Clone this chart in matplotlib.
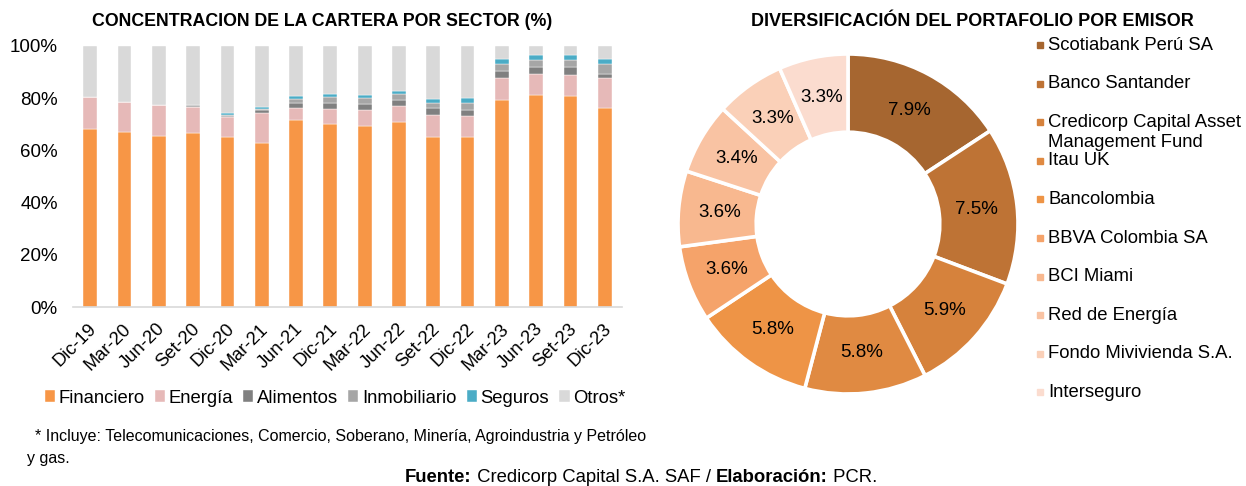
import matplotlib
matplotlib.use("Agg")
import matplotlib.pyplot as plt
import numpy as np

plt.rcParams['font.family'] = ['Liberation Sans', 'DejaVu Sans']

# ---- data: sector concentration (%) ----
periods = ["Dic-19", "Mar-20", "Jun-20", "Set-20", "Dic-20", "Mar-21", "Jun-21", "Dic-21",
           "Mar-22", "Jun-22", "Set-22", "Dic-22", "Mar-23", "Jun-23", "Set-23", "Dic-23"]
financiero = [68.1, 67.2, 65.7, 66.7, 65.3, 63.0, 71.6, 70.2, 69.4, 71.0, 65.3, 65.3, 79.5, 81.4, 80.7, 76.4]
energia = [12.5, 11.5, 11.7, 10.0, 7.4, 11.4, 4.8, 5.8, 5.9, 6.0, 8.2, 7.9, 8.4, 7.9, 8.2, 11.5]
alimentos = [0.0, 0.0, 0.0, 0.0, 0.4, 1.0, 1.8, 2.3, 2.3, 2.3, 2.6, 2.4, 2.7, 2.8, 3.1, 1.5]
inmobiliario = [0.0, 0.0, 0.0, 0.8, 0.5, 0.5, 1.5, 2.0, 2.3, 2.2, 2.0, 2.4, 2.6, 2.4, 2.6, 3.6]
seguros = [0.0, 0.0, 0.0, 0.0, 0.8, 0.8, 1.3, 1.3, 1.4, 1.4, 1.7, 1.9, 2.0, 2.2, 2.0, 2.2]
otros = [100 - (a + b + c + d + e) for a, b, c, d, e in
         zip(financiero, energia, alimentos, inmobiliario, seguros)]
sector_names = ["Financiero", "Energía", "Alimentos", "Inmobiliario", "Seguros", "Otros*"]
sector_colors = ["#F79646", "#E6B9B8", "#808080", "#A6A6A6", "#4BACC6", "#D9D9D9"]

# ---- data: issuer diversification (%) ----
emisores = ["Scotiabank Perú SA", "Banco Santander", "Credicorp Capital Asset\nManagement Fund",
            "Itau UK", "Bancolombia", "BBVA Colombia SA", "BCI Miami", "Red de Energía",
            "Fondo Mivivienda S.A.", "Interseguro"]
emisor_vals = [7.9, 7.5, 5.9, 5.8, 5.8, 3.6, 3.6, 3.4, 3.3, 3.3]
emisor_colors = ["#A66630", "#BE7335", "#D6823C", "#E08A42", "#EE9446",
                 "#F5A36A", "#F8B88F", "#F9C3A3", "#FAD0B8", "#FBDCCF"]

W, H = 1246, 486
fig = plt.figure(figsize=(W / 100, H / 100), dpi=100)

# ---------------- bar chart ----------------
ax = fig.add_axes([73 / W, 1 - 307 / H, (622 - 73) / W, (307 - 46) / H])
x = np.arange(len(periods))
bottom = np.zeros(len(periods))
series = [financiero, energia, alimentos, inmobiliario, seguros, otros]
for vals, name, col in zip(series, sector_names, sector_colors):
    ax.bar(x, vals, 0.4, bottom=bottom, color=col, label=name,
           edgecolor="white", linewidth=0.3)
    bottom += np.array(vals)
ax.set_xlim(-0.5, len(periods) - 0.5)
ax.set_ylim(0, 100)
ax.set_yticks(np.arange(0, 101, 20))
ax.set_yticklabels([f"{v}%" for v in range(0, 101, 20)], fontsize=13.5)
ax.set_xticks(x)
ax.set_xticklabels(periods, rotation=45, ha="right", va="center",
                   rotation_mode="anchor", fontsize=13.2)
ax.tick_params(axis="x", length=0, pad=14)
ax.tick_params(axis="y", length=0, pad=11)
for s in ["top", "right", "left"]:
    ax.spines[s].set_visible(False)
ax.spines["bottom"].set_color("#D9D9D9")
ax.spines["bottom"].set_linewidth(1.2)
# nudge tick labels slightly right, as in the reference
import matplotlib.transforms as mtransforms
offset = mtransforms.ScaledTranslation(4 / 100, 0, fig.dpi_scale_trans)
for lbl in ax.get_xticklabels():
    lbl.set_transform(lbl.get_transform() + offset)

fig.text(322 / W, 1 - 22 / H, "CONCENTRACION DE LA CARTERA POR SECTOR (%)",
         ha="center", va="center", fontsize=12.8, fontweight="bold")
leg = fig.legend(loc="center", bbox_to_anchor=(335 / W, 1 - 398 / H), ncol=6,
                 frameon=False, fontsize=13.3, handlelength=0.55, handleheight=0.55,
                 handletextpad=0.2, columnspacing=0.55)
fig.text(35 / W, 1 - 436 / H,
         "* Incluye: Telecomunicaciones, Comercio, Soberano, Minería, Agroindustria y Petróleo",
         ha="left", va="center", fontsize=11.5)
fig.text(27 / W, 1 - 458 / H, "y gas.", ha="left", va="center", fontsize=11.5)

# ---------------- donut ----------------
r_out = 170
pax = fig.add_axes([(848 - r_out) / W, 1 - (224 + r_out) / H, 2 * r_out / W, 2 * r_out / H])
wedges, texts = pax.pie(emisor_vals, colors=emisor_colors, startangle=90, counterclock=False,
                        wedgeprops=dict(width=0.46, edgecolor="white", linewidth=2.6))
tot = sum(emisor_vals)
ang = 90.0
for v in emisor_vals:
    mid = np.deg2rad(ang - v / tot * 360 / 2)
    ang -= v / tot * 360
    pax.text(0.76 * np.cos(mid), 0.76 * np.sin(mid), f"{v:.1f}%",
             ha="center", va="center", fontsize=13.5)
pax.set_xlim(-1, 1)
pax.set_ylim(-1, 1)
pax.set_aspect("equal")

fig.text(972 / W, 1 - 22 / H, "DIVERSIFICACIÓN DEL PORTAFOLIO POR EMISOR",
         ha="center", va="center", fontsize=13, fontweight="bold")

# legend for donut (manual, to match wrapped entry)
y0, dy = 45, 38.6
for i, (name, col) in enumerate(zip(emisores, emisor_colors)):
    yy = y0 + i * dy
    fig.patches.append(plt.Rectangle((1037 / W, 1 - (yy + 3) / H), 6 / W, 6 / H,
                                     transform=fig.transFigure, color=col))
    if "\n" in name:
        fig.text(1048 / W, 1 - (yy - 8) / H, name, ha="left", va="top",
                 fontsize=13.3, linespacing=1.2)
    else:
        fig.text(1048 / W, 1 - yy / H, name, ha="left", va="center", fontsize=13.3)

# source line built from bold + regular pieces
pieces = [("Fuente:", "bold"), (" Credicorp Capital S.A. SAF / ", "normal"),
          ("Elaboración:", "bold"), (" PCR.", "normal")]
renderer = fig.canvas.get_renderer()
tmp = [fig.text(0, 0, t, fontsize=13.3, fontweight=w) for t, w in pieces]
widths = [t.get_window_extent(renderer).width for t in tmp]
for t in tmp:
    t.remove()
xs = 641 - sum(widths) / 2
for (t, w), wd in zip(pieces, widths):
    fig.text(xs / W, 1 - 477 / H, t, fontsize=13.3, fontweight=w, ha="left", va="center")
    xs += wd

fig.savefig("out.png", dpi=100)
